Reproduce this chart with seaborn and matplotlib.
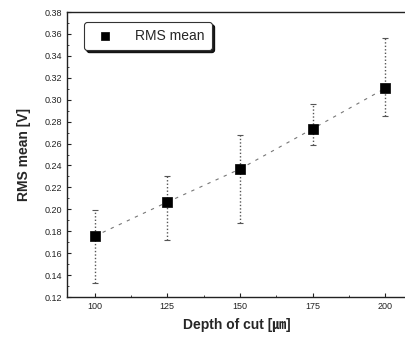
import numpy as np
import pandas as pd
import matplotlib
matplotlib.use("Agg")
import matplotlib.pyplot as plt
import seaborn as sns
from matplotlib.ticker import MultipleLocator, FormatStrFormatter

sns.set_theme(style="ticks")
plt.rcParams['font.family'] = ['Liberation Sans', 'Noto Sans CJK JP', 'DejaVu Sans']

# values
depth = [100, 125, 150, 175, 200]
rms_mean = [0.1755, 0.2066, 0.2368, 0.2735, 0.3105]
err_top = [0.1995, 0.2300, 0.2680, 0.2960, 0.3565]
err_bottom = [0.1330, 0.1720, 0.1875, 0.2590, 0.2850]

df = pd.DataFrame({"depth": depth, "rms": rms_mean})
yerr = [np.array(rms_mean) - np.array(err_bottom), np.array(err_top) - np.array(rms_mean)]

fig = plt.figure(figsize=(4.06, 3.43), dpi=100)
ax = fig.add_axes([0.165, 0.134, 0.838, 0.831])

# error bars, dotted
eb = ax.errorbar(depth, rms_mean, yerr=yerr, fmt="none", ecolor="#555555",
                 elinewidth=1.0, capsize=2, capthick=0.8, zorder=2)
eb[2][0].set_linestyle((0, (1, 1.5)))

# dashed connecting line
sns.lineplot(data=df, x="depth", y="rms", ax=ax, color="#777777", lw=0.8,
             linestyle=(0, (3, 5)), zorder=1)

# square markers
sns.scatterplot(data=df, x="depth", y="rms", ax=ax, marker="s", s=55,
                color="black", edgecolor="black", linewidth=0.5,
                label="RMS mean", zorder=3)

ax.set_xlim(90.5, 207.5)
ax.set_ylim(0.12, 0.38)
ax.set_xticks(depth)
ax.xaxis.set_minor_locator(MultipleLocator(12.5))
ax.yaxis.set_major_locator(MultipleLocator(0.02))
ax.yaxis.set_minor_locator(MultipleLocator(0.01))
ax.yaxis.set_major_formatter(FormatStrFormatter("%.2f"))
ax.tick_params(which="both", direction="in", colors="#222222", labelsize=6.5)
ax.tick_params(which="major", length=3, width=0.8)
ax.tick_params(which="minor", length=1.5, width=0.6)
for side in ["left", "bottom", "top"]:
    ax.spines[side].set_linewidth(1.0)
    ax.spines[side].set_color("#222222")
ax.spines["right"].set_visible(False)

ax.set_xlabel("Depth of cut [㎛]", fontsize=10, fontweight="bold", labelpad=5)
ax.set_ylabel("RMS mean [V]", fontsize=10, fontweight="bold", labelpad=10)

leg = ax.legend(loc="upper left", bbox_to_anchor=(0.05, 0.965), borderaxespad=0,
                frameon=True, shadow={"color": "black", "alpha": 0.9},
                fancybox=True, fontsize=10, handletextpad=1.2,
                borderpad=0.5, markerscale=0.8)
leg.get_frame().set_edgecolor("#333333")
leg.get_frame().set_linewidth(0.8)

fig.savefig("out.png", dpi=100)
